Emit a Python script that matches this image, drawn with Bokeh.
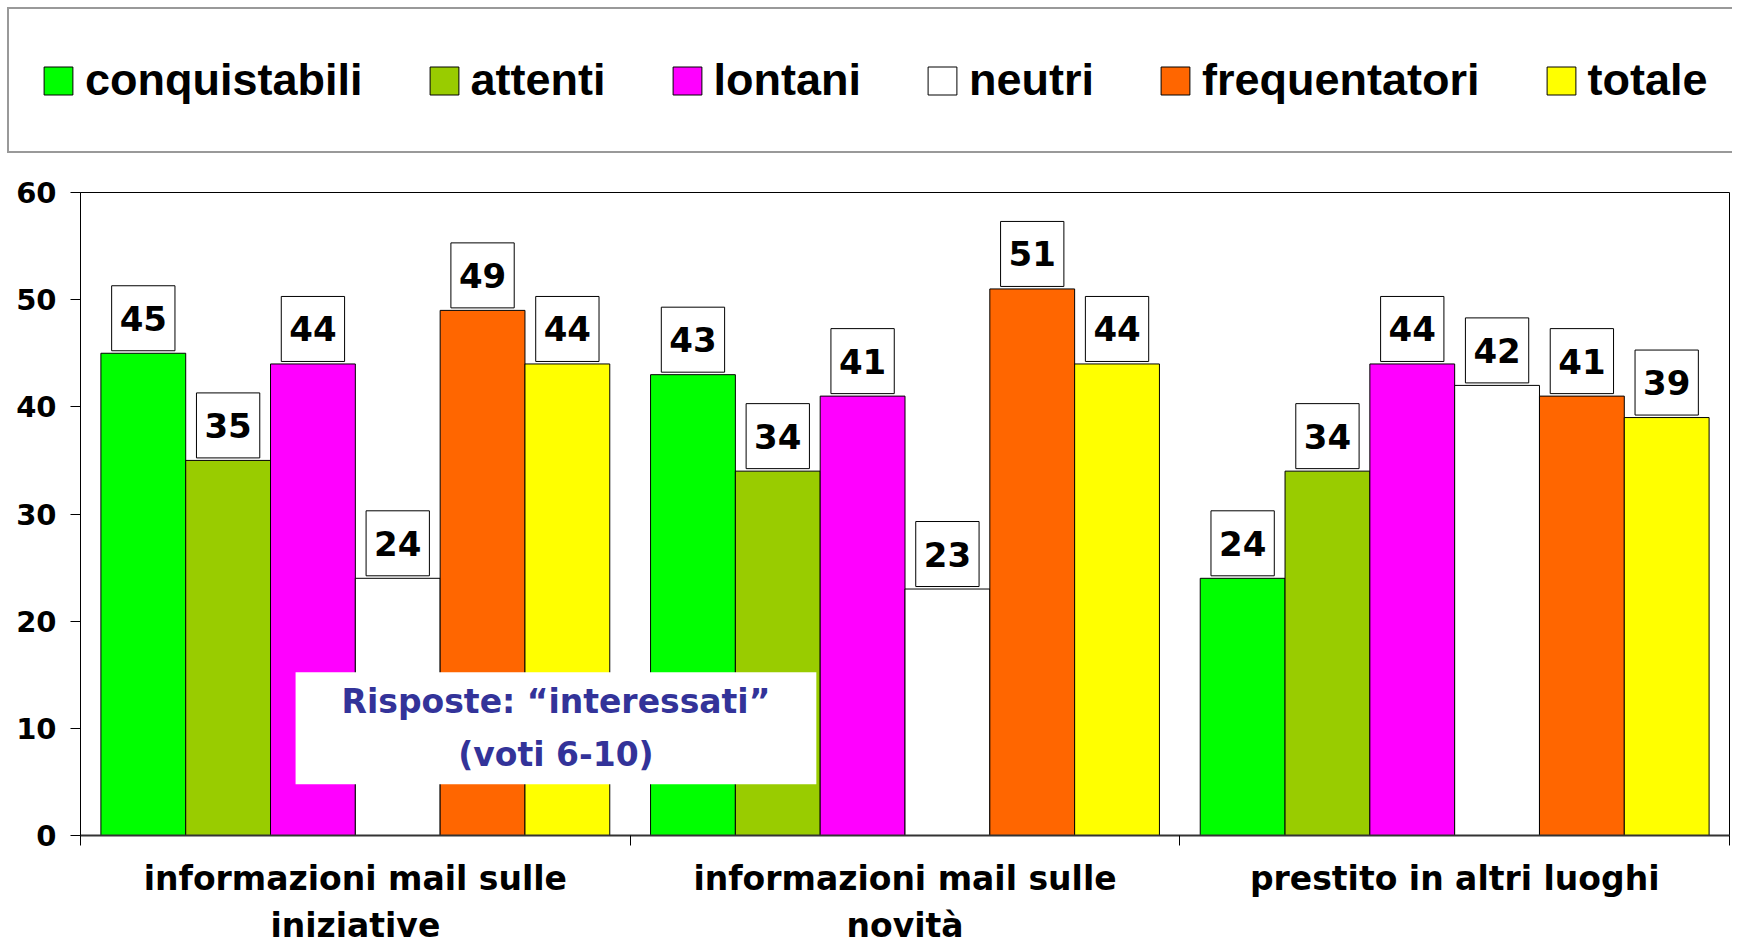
from bokeh.plotting import figure
from bokeh.models import Range1d, FixedTicker, Legend, LegendItem, Label, ColumnDataSource
from bokeh.transform import dodge
from bokeh.core.properties import value
from bokeh.layouts import column
from bokeh.embed import file_html
from bokeh.resources import INLINE

# ---- data ----
categories = ["informazioni mail sulle\niniziative", "informazioni mail sulle\nnovità", "prestito in altri luoghi"]
series = ["conquistabili", "attenti", "lontani", "neutri", "frequentatori", "totale"]
colors = ["#00FF00", "#99CC00", "#FF00FF", "#FFFFFF", "#FF6600", "#FFFF00"]
conquistabili = [45, 43, 24]
attenti = [35, 34, 34]
lontani = [44, 41, 44]
neutri = [24, 23, 42]
frequentatori = [49, 51, 41]
totale = [44, 44, 39]
y_ticks = [0, 10, 20, 30, 40, 50, 60]
note = "Risposte: \u201cinteressati\u201d\n(voti 6-10)"

values = [conquistabili, attenti, lontani, neutri, frequentatori, totale]

# ---- layout constants ----
W = 1732
LEG_H = 153
MAIN_H = 700
CAT_H = 944 - LEG_H - MAIN_H
bw = 0.1543
centers = [i + 0.5 for i in range(len(categories))]
bounds = [float(i) for i in range(len(categories) + 1)]

# ---- legend figure ----
lf = figure(width=W, height=LEG_H, x_range=Range1d(0, 1), y_range=Range1d(0, 1),
            output_backend="svg", toolbar_location=None, min_border=0,
            x_axis_location=None, y_axis_location=None)
lf.grid.visible = False
lf.outline_line_color = None
items = []
for name, c, vals in zip(series, colors, values):
    r = lf.vbar(x=centers, top=vals, width=bw, fill_color=c, line_color="black",
                line_width=1, visible=False)
    items.append(LegendItem(label=name, renderers=[r]))
leg = Legend(items=items, orientation="horizontal", location=(7, 0),
             margin=0, padding=31, spacing=63,
             glyph_width=36, glyph_height=35, label_standoff=9, label_height=80,
             label_text_font="Liberation Sans", label_text_font_style="bold",
             label_text_font_size="45px", label_text_color="black",
             border_line_color="#333333", border_line_width=2,
             background_fill_color="white", background_fill_alpha=1,
             inactive_fill_alpha=0)
lf.add_layout(leg, "center")

# ---- main figure ----
p = figure(width=W, height=MAIN_H, x_range=Range1d(0, 3), y_range=Range1d(0, 60),
           output_backend="svg", toolbar_location=None,
           min_border_left=80, min_border_right=3, min_border_top=39, min_border_bottom=18)
p.grid.visible = False
p.outline_line_color = "black"
p.outline_line_width = 1

for j, (name, c, vals) in enumerate(zip(series, colors, values)):
    off = (j - 2.5) * bw
    src = ColumnDataSource(dict(x=centers, top=vals))
    p.vbar(x=dodge("x", off), top="top", width=bw, source=src,
           fill_color=c, line_color="black", line_width=1)
    for xc, v in zip(centers, vals):
        p.add_layout(Label(x=xc + off, y=v, text=str(v), text_align="center",
                           text_baseline="middle", y_offset=35,
                           text_font="DejaVu Sans", text_font_style="bold",
                           text_font_size="34px", text_color="black",
                           background_fill_color="white", border_line_color="black",
                           border_line_width=1, padding=dict(x=8, y=20)))

p.add_layout(Label(x=0.865, y=10.0, text=note, text_align="center", text_baseline="middle",
                   text_font="DejaVu Sans", text_font_style="bold", text_font_size="33px",
                   text_line_height=1.36, text_color="#333399",
                   background_fill_color="white", border_line_color=None,
                   padding=dict(x=46, y=10)))

xa = p.xaxis[0]
xa.ticker = FixedTicker(ticks=[], minor_ticks=bounds)
xa.major_tick_out = 0
xa.major_tick_in = 0
xa.minor_tick_out = 10
xa.minor_tick_in = 0
xa.minor_tick_line_color = "black"
xa.axis_line_color = "#333333"
xa.axis_line_width = 2
xa.major_label_standoff = 0

ya = p.yaxis[0]
ya.ticker = FixedTicker(ticks=y_ticks)
ya.major_tick_out = 10
ya.major_tick_in = 0
ya.minor_tick_out = 0
ya.minor_tick_in = 0
ya.axis_line_color = "black"
ya.major_tick_line_color = "black"
ya.major_label_standoff = 14
ya.major_label_text_font = "DejaVu Sans"
ya.major_label_text_font_style = "bold"
ya.major_label_text_font_size = "29px"
ya.major_label_text_color = "black"

# ---- category labels figure ----
bf = figure(width=W, height=CAT_H, x_range=p.x_range, y_range=Range1d(0, 1),
            output_backend="svg", toolbar_location=None,
            min_border_left=80, min_border_right=3, min_border_top=0, min_border_bottom=0,
            x_axis_location=None, y_axis_location=None)
bf.grid.visible = False
bf.outline_line_color = None
bf.text(x=centers, y=[1.0] * len(centers), text=categories, text_align="center",
        text_baseline="top", y_offset=5, text_font=value("DejaVu Sans"),
        text_font_style="bold", text_font_size="33px", text_line_height=1.22,
        text_color="black")

layout = column(lf, column(p, bf, spacing=0), spacing=0)
open("out.html", "w").write(file_html(layout, INLINE))
